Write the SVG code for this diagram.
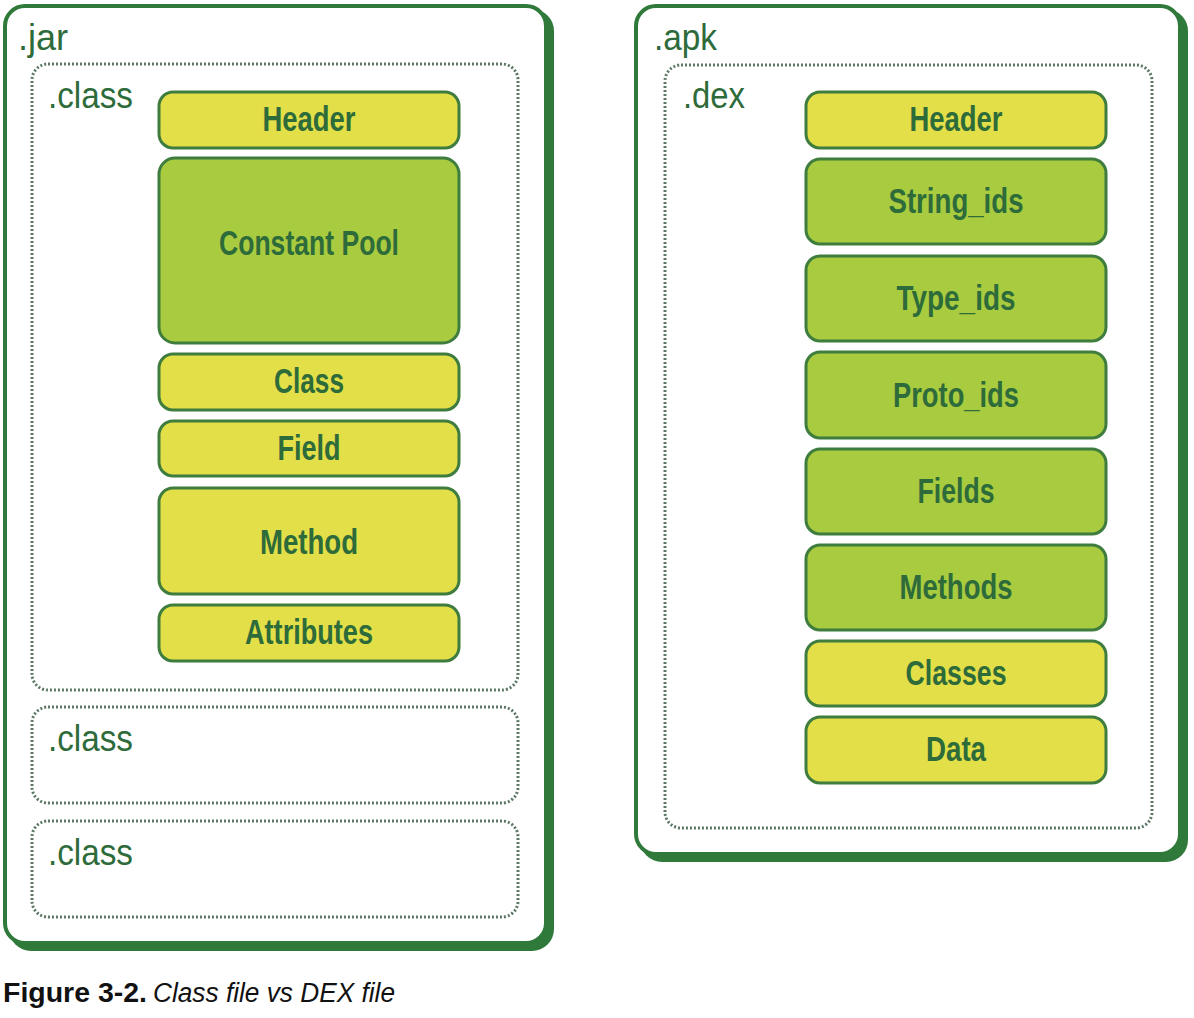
<svg xmlns="http://www.w3.org/2000/svg" width="1194" height="1018" viewBox="0 0 1194 1018">
<style>
.outer{fill:#fff;stroke:#2f7a3a;stroke-width:4}
.shadow{fill:#2f7a3a}
.dot{fill:none;stroke:#5c7865;stroke-width:3;stroke-dasharray:2 2}
.y{fill:#e3df48;stroke:#3f7d3f;stroke-width:3}
.g{fill:#a9cb3f;stroke:#3f7d3f;stroke-width:3}
.lbl{font-family:"Liberation Sans",Arial,sans-serif;font-weight:bold;font-size:35px;fill:#2e6b3a;text-anchor:middle}
.cap{font-family:"Liberation Sans",Arial,sans-serif;font-size:36px;fill:#2e6b3a}
.fig{font-family:"Liberation Sans",Arial,sans-serif;font-size:27px;fill:#111}
</style>
<rect width="1194" height="1018" fill="#fff"/>
<g id="jar">
<rect class="shadow" x="9" y="9" width="545" height="942" rx="22"/>
<rect class="outer" x="5" y="6" width="541" height="937" rx="20"/>
<text class="cap" x="18" y="50" textLength="50" lengthAdjust="spacingAndGlyphs">.jar</text>
</g>
<g id="class1">
<rect class="dot" x="32" y="64" width="486" height="626" rx="16"/>
<text class="cap" x="48" y="108" textLength="85" lengthAdjust="spacingAndGlyphs">.class</text>
</g>
<g id="class2">
<rect class="dot" x="32" y="707" width="486" height="96" rx="16"/>
<text class="cap" x="48" y="751" textLength="85" lengthAdjust="spacingAndGlyphs">.class</text>
</g>
<g id="class3">
<rect class="dot" x="32" y="821" width="486" height="96" rx="16"/>
<text class="cap" x="48" y="865" textLength="85" lengthAdjust="spacingAndGlyphs">.class</text>
</g>
<g id="c-header"><rect class="y" x="159" y="92" width="300" height="56" rx="14"/><text class="lbl" x="309" y="131" textLength="93" lengthAdjust="spacingAndGlyphs">Header</text></g>
<g id="c-pool"><rect class="g" x="159" y="158" width="300" height="185" rx="16"/><text class="lbl" x="309" y="255" textLength="180" lengthAdjust="spacingAndGlyphs">Constant Pool</text></g>
<g id="c-class"><rect class="y" x="159" y="354" width="300" height="56" rx="14"/><text class="lbl" x="309" y="393" textLength="70" lengthAdjust="spacingAndGlyphs">Class</text></g>
<g id="c-field"><rect class="y" x="159" y="421" width="300" height="55" rx="14"/><text class="lbl" x="309" y="460" textLength="63" lengthAdjust="spacingAndGlyphs">Field</text></g>
<g id="c-method"><rect class="y" x="159" y="488" width="300" height="106" rx="14"/><text class="lbl" x="309" y="554" textLength="98" lengthAdjust="spacingAndGlyphs">Method</text></g>
<g id="c-attr"><rect class="y" x="159" y="605" width="300" height="56" rx="14"/><text class="lbl" x="309" y="644" textLength="128" lengthAdjust="spacingAndGlyphs">Attributes</text></g>
<g id="apk">
<rect class="shadow" x="640" y="9" width="548" height="853" rx="22"/>
<rect class="outer" x="636" y="6" width="544" height="848" rx="20"/>
<text class="cap" x="654" y="50" textLength="63" lengthAdjust="spacingAndGlyphs">.apk</text>
</g>
<g id="dex">
<rect class="dot" x="665" y="65" width="487" height="763" rx="16"/>
<text class="cap" x="683" y="108" textLength="62" lengthAdjust="spacingAndGlyphs">.dex</text>
</g>
<g id="d-header"><rect class="y" x="806" y="92" width="300" height="56" rx="14"/><text class="lbl" x="956" y="131" textLength="93" lengthAdjust="spacingAndGlyphs">Header</text></g>
<g id="d-string"><rect class="g" x="806" y="159" width="300" height="85" rx="14"/><text class="lbl" x="956" y="213" textLength="135" lengthAdjust="spacingAndGlyphs">String_ids</text></g>
<g id="d-type"><rect class="g" x="806" y="256" width="300" height="85" rx="14"/><text class="lbl" x="956" y="310" textLength="119" lengthAdjust="spacingAndGlyphs">Type_ids</text></g>
<g id="d-proto"><rect class="g" x="806" y="352" width="300" height="86" rx="14"/><text class="lbl" x="956" y="407" textLength="126" lengthAdjust="spacingAndGlyphs">Proto_ids</text></g>
<g id="d-fields"><rect class="g" x="806" y="449" width="300" height="85" rx="14"/><text class="lbl" x="956" y="503" textLength="77" lengthAdjust="spacingAndGlyphs">Fields</text></g>
<g id="d-methods"><rect class="g" x="806" y="545" width="300" height="85" rx="14"/><text class="lbl" x="956" y="599" textLength="113" lengthAdjust="spacingAndGlyphs">Methods</text></g>
<g id="d-classes"><rect class="y" x="806" y="641" width="300" height="65" rx="14"/><text class="lbl" x="956" y="685" textLength="101" lengthAdjust="spacingAndGlyphs">Classes</text></g>
<g id="d-data"><rect class="y" x="806" y="717" width="300" height="66" rx="14"/><text class="lbl" x="956" y="761" textLength="60" lengthAdjust="spacingAndGlyphs">Data</text></g>
<g id="connectors"/>
<text class="fig" x="3" y="1002" font-weight="bold" textLength="144" lengthAdjust="spacingAndGlyphs">Figure 3-2.</text>
<text class="fig" x="153" y="1002" font-style="italic" textLength="242" lengthAdjust="spacingAndGlyphs">Class file vs DEX file</text>
</svg>
